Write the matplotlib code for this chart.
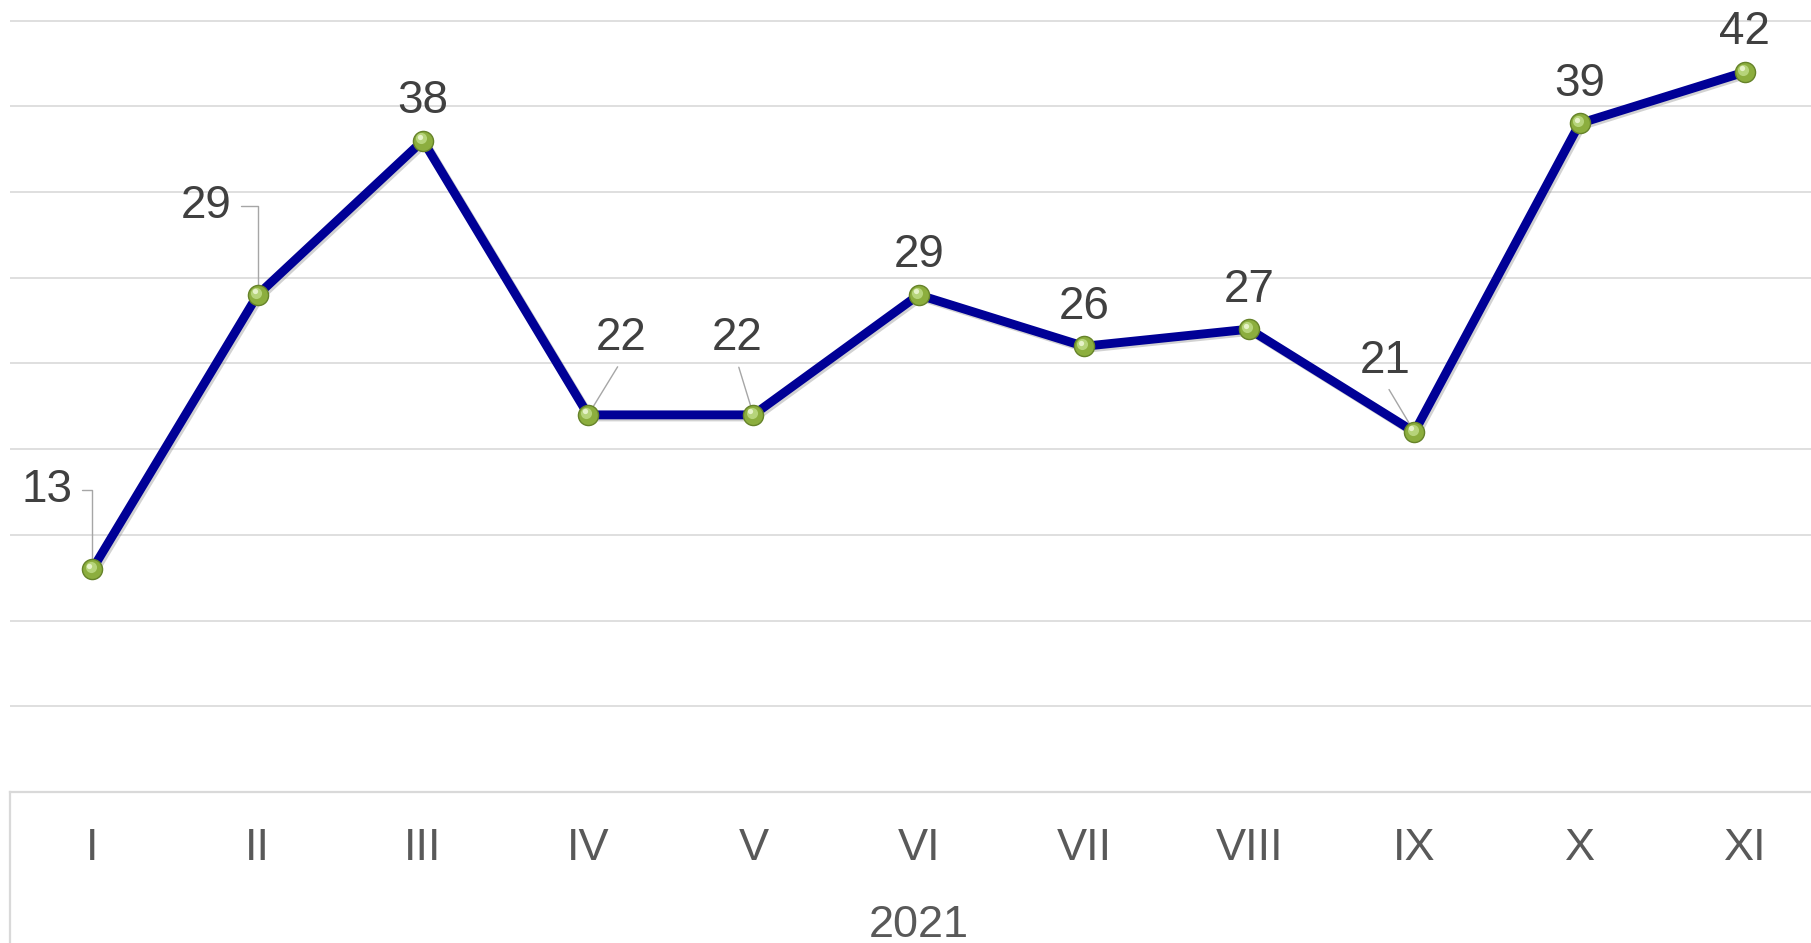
import matplotlib
matplotlib.use("Agg")
import matplotlib.pyplot as plt
import matplotlib.patheffects as pe
from matplotlib.lines import Line2D
from matplotlib.transforms import ScaledTranslation

months = ["I", "II", "III", "IV", "V", "VI", "VII", "VIII", "IX", "X", "XI"]
values = [13, 29, 38, 22, 22, 29, 26, 27, 21, 39, 42]
year_label = "2021"

plt.rcParams['font.family'] = ['Liberation Sans', 'DejaVu Sans']

fig = plt.figure(figsize=(18.11, 9.43), dpi=100)
ax = fig.add_axes([0.0054, 0.1601, 0.9946, 0.8399])
x = list(range(len(months)))

ax.set_xlim(-0.5, 10.40)
ax.set_ylim(0, 46.2)
ax.set_yticks(range(5, 50, 5))
ax.yaxis.grid(True, color='#D9D9D9', linewidth=1.2)
ax.set_axisbelow(True)
for s in ['top', 'right', 'left']:
    ax.spines[s].set_visible(False)
ax.spines['bottom'].set_color('#D9D9D9')
ax.spines['bottom'].set_linewidth(1.6)
ax.tick_params(axis='y', left=False, labelleft=False)
ax.set_xticks(x)
ax.set_xticklabels(months, fontsize=32.5, color='#595959')
ax.tick_params(axis='x', length=0, pad=26)

# left border of category area
fig.add_artist(Line2D([0.0054, 0.0054], [0, 0.1601], color='#D9D9D9', linewidth=1.6))

# line with slight shadow
ax.plot(x, values, color='#000096', linewidth=6.4, solid_joinstyle='round',
        path_effects=[pe.SimpleLineShadow(offset=(1.5, -1.5), shadow_color='gray', alpha=0.35),
                      pe.Normal()], zorder=3)

# sphere-like markers
ax.plot(x, values, linestyle='none', marker='o', markersize=14.5,
        markerfacecolor='#8CAE3E', markeredgecolor='#66832A', markeredgewidth=1.0, zorder=4)
hl = ax.transData + ScaledTranslation(-1.3 / 72, 1.5 / 72, fig.dpi_scale_trans)
ax.plot(x, values, linestyle='none', marker='o', markersize=8.0, transform=hl,
        markerfacecolor='#B6D47A', markeredgecolor='none', zorder=5)
hl2 = ax.transData + ScaledTranslation(-2.2 / 72, 2.6 / 72, fig.dpi_scale_trans)
ax.plot(x, values, linestyle='none', marker='o', markersize=3.8, transform=hl2,
        markerfacecolor='#E6F2C8', markeredgecolor='none', zorder=6)

# data labels (offsets in points)
offsets = {0: (-33, 57), 1: (-37, 64), 3: (24, 55), 4: (-12, 55), 8: (-21, 51)}
for i, v in enumerate(values):
    dx, dy = offsets.get(i, (0, 28.5))
    if i in (0, 1):
        ax.annotate(str(v), xy=(i, v), xytext=(dx, dy), textcoords='offset points',
                    ha='center', va='center', fontsize=33, color='#404040',
                    arrowprops=dict(arrowstyle='-', color='#A6A6A6', lw=1.0,
                                    connectionstyle='angle,angleA=0,angleB=90,rad=0',
                                    relpos=(1.0, 0.5), shrinkA=5, shrinkB=0))
    elif i in offsets:
        ax.annotate(str(v), xy=(i, v), xytext=(dx, dy), textcoords='offset points',
                    ha='center', va='center', fontsize=33, color='#404040',
                    arrowprops=dict(arrowstyle='-', color='#A6A6A6', lw=1.0,
                                    relpos=(0.5, 0.0), shrinkA=3, shrinkB=0))
    else:
        ax.annotate(str(v), xy=(i, v), xytext=(dx, dy), textcoords='offset points',
                    ha='center', va='center', fontsize=33, color='#404040')

ax.text(5, -0.168, year_label, transform=ax.get_xaxis_transform(),
        ha='center', va='center', fontsize=32.5, color='#595959')

fig.savefig('out.png', dpi=100)
